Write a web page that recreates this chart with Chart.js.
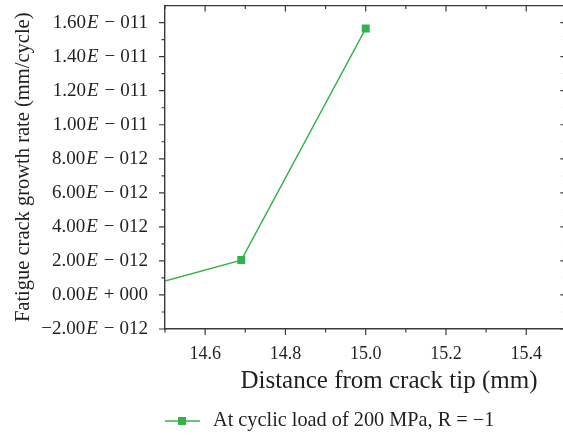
<!DOCTYPE html>
<html>
<head>
<meta charset="utf-8">
<script src="https://cdn.jsdelivr.net/npm/chart.js@4"></script>
<style>
  html, body { margin: 0; padding: 0; background: #fff; overflow: hidden; }
  #wrap { width: 563px; height: 436px; overflow: hidden; }
</style>
</head>
<body>
<div id="wrap"><canvas id="crack_growth_linechart" width="572" height="436"></canvas></div>
<script>
// data
const distance = [14.4, 14.69, 15.0];
const growthRate = [0.18e-12, 2.05e-12, 1.565e-11];

const xTicks = [14.6, 14.8, 15.0, 15.2, 15.4];
const xMinorTicks = [14.5, 14.7, 14.9, 15.1, 15.3, 15.5];
const yTicks = [-2e-12, 0, 2e-12, 4e-12, 6e-12, 8e-12, 1e-11, 1.2e-11, 1.4e-11, 1.6e-11];
const yMinorTicks = [-1e-12, 1e-12, 3e-12, 5e-12, 7e-12, 9e-12, 1.1e-11, 1.3e-11, 1.5e-11];
const yTickLabels = [
  '−2.00E − 012', '0.00E + 000', '2.00E − 012', '4.00E − 012', '6.00E − 012',
  '8.00E − 012', '1.00E − 011', '1.20E − 011', '1.40E − 011', '1.60E − 011'
];

const seriesLabel = 'At cyclic load of 200 MPa, R = −1';
const xTitle = 'Distance from crack tip (mm)';
const yTitle = 'Fatigue crack growth rate (mm/cycle)';

const GREEN = '#33b24a';
const INK = '#231f20';
const AXIS = '#3a3a3a';
const FONT = '"Liberation Serif", "DejaVu Serif", serif';

// box, tick marks, y labels with italic E, x title and legend
const decorPlugin = {
  id: 'decor',
  afterDraw(chart) {
    const ctx = chart.ctx;
    const a = chart.chartArea;
    const xs = chart.scales.x;
    const ys = chart.scales.y;

    ctx.save();
    ctx.strokeStyle = AXIS;
    ctx.lineWidth = 1.4;
    ctx.beginPath();
    ctx.moveTo(a.left, a.top);
    ctx.lineTo(a.right, a.top);
    ctx.lineTo(a.right, a.bottom);
    ctx.stroke();

    ctx.lineWidth = 1.2;
    ctx.beginPath();
    xTicks.forEach(v => {
      const px = xs.getPixelForValue(v);
      ctx.moveTo(px, a.bottom); ctx.lineTo(px, a.bottom + 6);
      ctx.moveTo(px, a.top); ctx.lineTo(px, a.top + 6);
    });
    xMinorTicks.forEach(v => {
      const px = xs.getPixelForValue(v);
      ctx.moveTo(px, a.bottom); ctx.lineTo(px, a.bottom + 3.5);
      ctx.moveTo(px, a.top); ctx.lineTo(px, a.top + 3.5);
    });
    yTicks.forEach(v => {
      const py = ys.getPixelForValue(v);
      ctx.moveTo(a.left, py); ctx.lineTo(a.left - 6, py);
      ctx.moveTo(a.right, py); ctx.lineTo(a.right - 6, py);
    });
    yMinorTicks.forEach(v => {
      const py = ys.getPixelForValue(v);
      ctx.moveTo(a.left, py); ctx.lineTo(a.left - 3.5, py);
      ctx.moveTo(a.right, py); ctx.lineTo(a.right - 3.5, py);
    });
    ctx.stroke();

    // y tick labels
    ctx.fillStyle = INK;
    ctx.textBaseline = 'middle';
    ctx.textAlign = 'left';
    const upright = '19px ' + FONT;
    const italic = 'italic 19px ' + FONT;
    yTicks.forEach((v, i) => {
      const py = ys.getPixelForValue(v);
      const parts = yTickLabels[i].split('E');
      const mant = parts[0];
      const rest = parts[1].trim();
      const sign = rest[0];
      const exp = rest.slice(1).trim();
      ctx.font = upright;
      const wExp = ctx.measureText(exp).width;
      const wSign = ctx.measureText(sign).width;
      const wMant = ctx.measureText(mant).width;
      ctx.font = italic;
      const wE = ctx.measureText('E').width;
      let x = 148 - wExp;
      ctx.font = upright;
      ctx.fillText(exp, x, py);
      x -= 5 + wSign;
      ctx.fillText(sign, x, py);
      x -= 6 + wE;
      ctx.font = italic;
      ctx.fillText('E', x, py);
      x -= wMant + 1;
      ctx.font = upright;
      ctx.fillText(mant, x, py);
    });

    // x axis title
    ctx.font = '25px ' + FONT;
    ctx.textAlign = 'center';
    ctx.fillText(xTitle, 389, 381);

    // legend
    const ly = 421;
    ctx.strokeStyle = GREEN;
    ctx.lineWidth = 1.4;
    ctx.beginPath();
    ctx.moveTo(165, ly); ctx.lineTo(200, ly);
    ctx.stroke();
    ctx.fillStyle = GREEN;
    ctx.fillRect(178, ly - 4, 8, 8);
    ctx.fillStyle = INK;
    ctx.textAlign = 'left';
    ctx.font = '20.3px ' + FONT;
    ctx.fillText(seriesLabel, 213, ly);
    ctx.restore();
  }
};

function crack_growth_linechart() {
  const lineChartData = {
    datasets: [{
      label: seriesLabel,
      data: distance.map((d, i) => ({ x: d, y: growthRate[i] })),
      borderColor: GREEN,
      backgroundColor: GREEN,
      borderWidth: 1.4,
      pointStyle: 'rect',
      pointRadius: 5.6,
      pointBorderWidth: 0,
      fill: false,
      tension: 0
    }]
  };

  const lineChartOptions = {
    responsive: false,
    devicePixelRatio: 1,
    animation: false,
    layout: { padding: { top: 5, right: 4, bottom: 0, left: 0 } },
    plugins: {
      legend: { display: false },
      tooltip: { enabled: false }
    },
    scales: {
      x: {
        type: 'linear',
        min: 14.5,
        max: 15.5,
        afterBuildTicks: s => { s.ticks = xTicks.map(v => ({ value: v })); },
        afterFit: s => { s.height = 436 - 329; },
        grid: { display: false, drawTicks: false },
        border: { display: true, color: AXIS, width: 1.4 },
        ticks: {
          color: INK,
          font: { family: FONT, size: 18 },
          padding: 14,
          maxRotation: 0,
          autoSkip: false,
          callback: v => v.toFixed(1)
        }
      },
      y: {
        type: 'linear',
        min: -2e-12,
        max: 1.7e-11,
        afterBuildTicks: s => { s.ticks = yTicks.map(v => ({ value: v })); },
        afterFit: s => { s.width = 165; },
        grid: { display: false, drawTicks: false },
        border: { display: true, color: AXIS, width: 1.4 },
        ticks: { display: false },
        title: {
          display: true,
          text: yTitle,
          color: INK,
          font: { family: FONT, size: 20.5 },
          padding: { top: 11, bottom: 0 }
        }
      }
    }
  };

  const ctx = document.getElementById('crack_growth_linechart').getContext('2d');
  new Chart(ctx, {
    type: 'line',
    data: lineChartData,
    options: lineChartOptions,
    plugins: [decorPlugin]
  });
}

crack_growth_linechart();
</script>
</body>
</html>
